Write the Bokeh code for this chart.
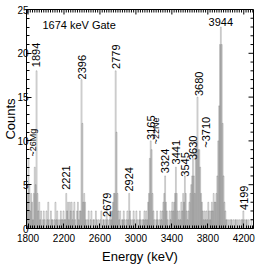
import numpy as np
from bokeh.plotting import figure
from bokeh.models import Range1d, FixedTicker, ColumnDataSource, Label
from bokeh.core.properties import value
from bokeh.embed import file_html
from bokeh.resources import INLINE

# ---------------- data ----------------
bin_start = 1780
bin_width = 10
counts = [
    3, 4, 8, 5, 2, 4, 3, 1, 4, 7,        # 1780
    5, 18, 4, 2, 3, 1, 2, 0, 1, 2,       # 1880
    1, 0, 2, 1, 3, 1, 0, 2, 1, 1,        # 1980
    0, 1, 3, 1, 2, 1, 0, 1, 2, 1,        # 2080
    1, 2, 1, 1, 4, 2, 3, 1, 3, 2,        # 2180
    3, 1, 2, 3, 1, 0, 2, 3, 1, 2,        # 2280
    2, 17, 12, 3, 4, 3, 1, 0, 1, 2,      # 2380
    0, 1, 2, 0, 1, 1, 0, 2, 1, 0,        # 2480
    1, 0, 1, 2, 0, 1, 1, 0, 1, 2,        # 2580
    1, 0, 1, 2, 1, 2, 3, 4, 4, 18,       # 2680
    11, 4, 2, 1, 2, 0, 1, 1, 2, 1,       # 2780
    0, 1, 2, 1, 4, 2, 1, 0, 1, 2,        # 2880
    1, 0, 2, 1, 0, 1, 2, 1, 0, 1,        # 2980
    1, 2, 1, 2, 1, 3, 4, 8, 10, 9,       # 3080
    4, 2, 1, 0, 1, 2, 1, 0, 1, 2,        # 3180
    1, 2, 3, 4, 6, 3, 2, 1, 0, 2,        # 3280
    1, 2, 3, 2, 3, 4, 7, 4, 2, 1,        # 3380
    2, 1, 3, 2, 4, 3, 6, 4, 2, 1,        # 3480
    2, 3, 4, 5, 6, 8, 6, 4, 9, 10,       # 3580
    15, 9, 9, 7, 4, 3, 2, 1, 2, 1,       # 3680
    2, 1, 3, 2, 1, 2, 3, 2, 4, 3,        # 3780
    3, 4, 6, 10, 14, 21, 23, 21, 12, 6,  # 3880
    3, 2, 1, 1, 0, 1, 0, 1, 1, 0,        # 3980
    1, 0, 1, 1, 0, 1, 0, 1, 0, 1,        # 4080
    1, 2, 1, 0, 1, 1, 0, 1, 0, 0,        # 4180
    1, 0, 0,                             # 4280
]

peak_text = ["~26Mg", "1894", "2221", "2396", "2679", "2779", "2924", "3165",
             "~22Ne", "3324", "3441", "3545", "3630", "3680", "~3710", "4199"]
peak_energy = [1808, 1894, 2221, 2396, 2679, 2779, 2924, 3165,
               3165, 3324, 3441, 3545, 3630, 3680, 3710, 4199]
label_base = [8.1, 18.3, 4.3, 16.9, 1.2, 18.1, 4.1, 10.0,
              9.5, 6.2, 7.2, 5.8, 7.7, 15.0, 9.1, 2.0]

top_peak_text = "3944"
top_peak_energy = 3944
top_peak_count = 23

x_ticks = [1800, 2200, 2600, 3000, 3400, 3800, 4200]
y_ticks = [0, 5, 10, 15, 20, 25]

# ---------------- layout / style ----------------
label_dx = [4, 0, 0, 0, 0, 0, 0, 0, 5, 0, 0, 0, 0, 2, 6, 0]
label_size = ["9px", "11px", "11px", "11px", "11px", "11px", "11px", "11px",
              "9px", "11px", "11px", "11px", "11px", "11px", "11px", "11px"]

FONT = "Liberation Sans"
W, H = 258, 268
BL, BR, BT, BB = 25, 5, 9, 40
X0, X1 = 1783, 4308
Y0, Y1 = 0, 25

p = figure(width=W, height=H, output_backend="svg", toolbar_location=None,
           title=None,
           x_range=Range1d(X0, X1), y_range=Range1d(Y0, Y1),
           min_border_left=BL, min_border_right=BR, min_border_top=BT,
           min_border_bottom=BB)
p.xgrid.visible = False
p.ygrid.visible = False
p.outline_line_color = "black"
p.outline_line_width = 1
p.background_fill_color = "white"
p.border_fill_color = "white"

fw = W - BL - BR
fh = H - BT - BB
kx = (X1 - X0) / fw   # keV per pixel
ky = (Y1 - Y0) / fh   # counts per pixel

edges_left = bin_start + bin_width * np.arange(len(counts))
src = ColumnDataSource(dict(left=edges_left, right=edges_left + bin_width,
                            top=counts, bottom=np.zeros(len(counts))))
p.quad(left="left", right="right", top="top", bottom="bottom", source=src,
       fill_color=None, line_color="#555555", line_width=0.3)

lsrc = ColumnDataSource(dict(x=peak_energy, y=label_base, text=peak_text,
                             dx=label_dx, size=label_size))
p.text(x="x", y="y", text="text", source=lsrc, angle=np.pi / 2,
       x_offset="dx", y_offset=-1, text_align="left", text_baseline="middle",
       text_font=value(FONT), text_font_size="size", text_color="black")

p.text(x=[top_peak_energy], y=[top_peak_count], text=[top_peak_text],
       y_offset=-1, text_align="center", text_baseline="bottom",
       text_font=value(FONT), text_font_size=value("11px"), text_color="black")

p.add_layout(Label(x=1960, y=23.2, text="1674 keV Gate", text_font=FONT,
                   text_font_size="11px", text_baseline="middle",
                   text_align="left", text_color="black"))

xminor = list(range(1775, 4310, 25))
yminor = list(range(0, 26))

# axes (bottom / left), ticks pointing inward
for ax in (p.xaxis[0], p.yaxis[0]):
    ax.major_tick_in = 5
    ax.major_tick_out = 0
    ax.minor_tick_in = 3
    ax.minor_tick_out = 0
    ax.axis_line_color = "black"
    ax.major_tick_line_color = "black"
    ax.minor_tick_line_color = "black"
    ax.major_label_text_font = FONT
    ax.major_label_text_color = "black"
    ax.major_label_text_font_size = "10px"
    ax.axis_label_text_font = FONT
    ax.axis_label_text_font_style = "normal"
    ax.axis_label_text_color = "black"
    ax.axis_label_text_font_size = "13px"

p.xaxis.ticker = FixedTicker(ticks=x_ticks, minor_ticks=xminor)
p.yaxis.ticker = FixedTicker(ticks=y_ticks, minor_ticks=yminor)
p.xaxis.axis_label = "Energy (keV)"
p.yaxis.axis_label = "Counts"
p.xaxis.major_label_standoff = 5
p.xaxis.axis_label_standoff = 4
p.yaxis.major_label_standoff = -2
p.yaxis.axis_label_standoff = -4

# inward ticks on the top and right frame edges
xmaj = list(x_ticks)
xmin_ = [t for t in xminor if t not in x_ticks]
ymaj = list(y_ticks)
ymin_ = [t for t in yminor if t not in y_ticks]
p.segment(x0=xmaj, x1=xmaj, y0=[Y1] * len(xmaj), y1=[Y1 - 5 * ky] * len(xmaj),
          line_color="black", line_width=1)
p.segment(x0=xmin_, x1=xmin_, y0=[Y1] * len(xmin_), y1=[Y1 - 3 * ky] * len(xmin_),
          line_color="black", line_width=1)
p.segment(x0=[X1] * len(ymaj), x1=[X1 - 5 * kx] * len(ymaj), y0=ymaj, y1=ymaj,
          line_color="black", line_width=1)
p.segment(x0=[X1] * len(ymin_), x1=[X1 - 3 * kx] * len(ymin_), y0=ymin_, y1=ymin_,
          line_color="black", line_width=1)

open("out.html", "w").write(file_html(p, INLINE))
